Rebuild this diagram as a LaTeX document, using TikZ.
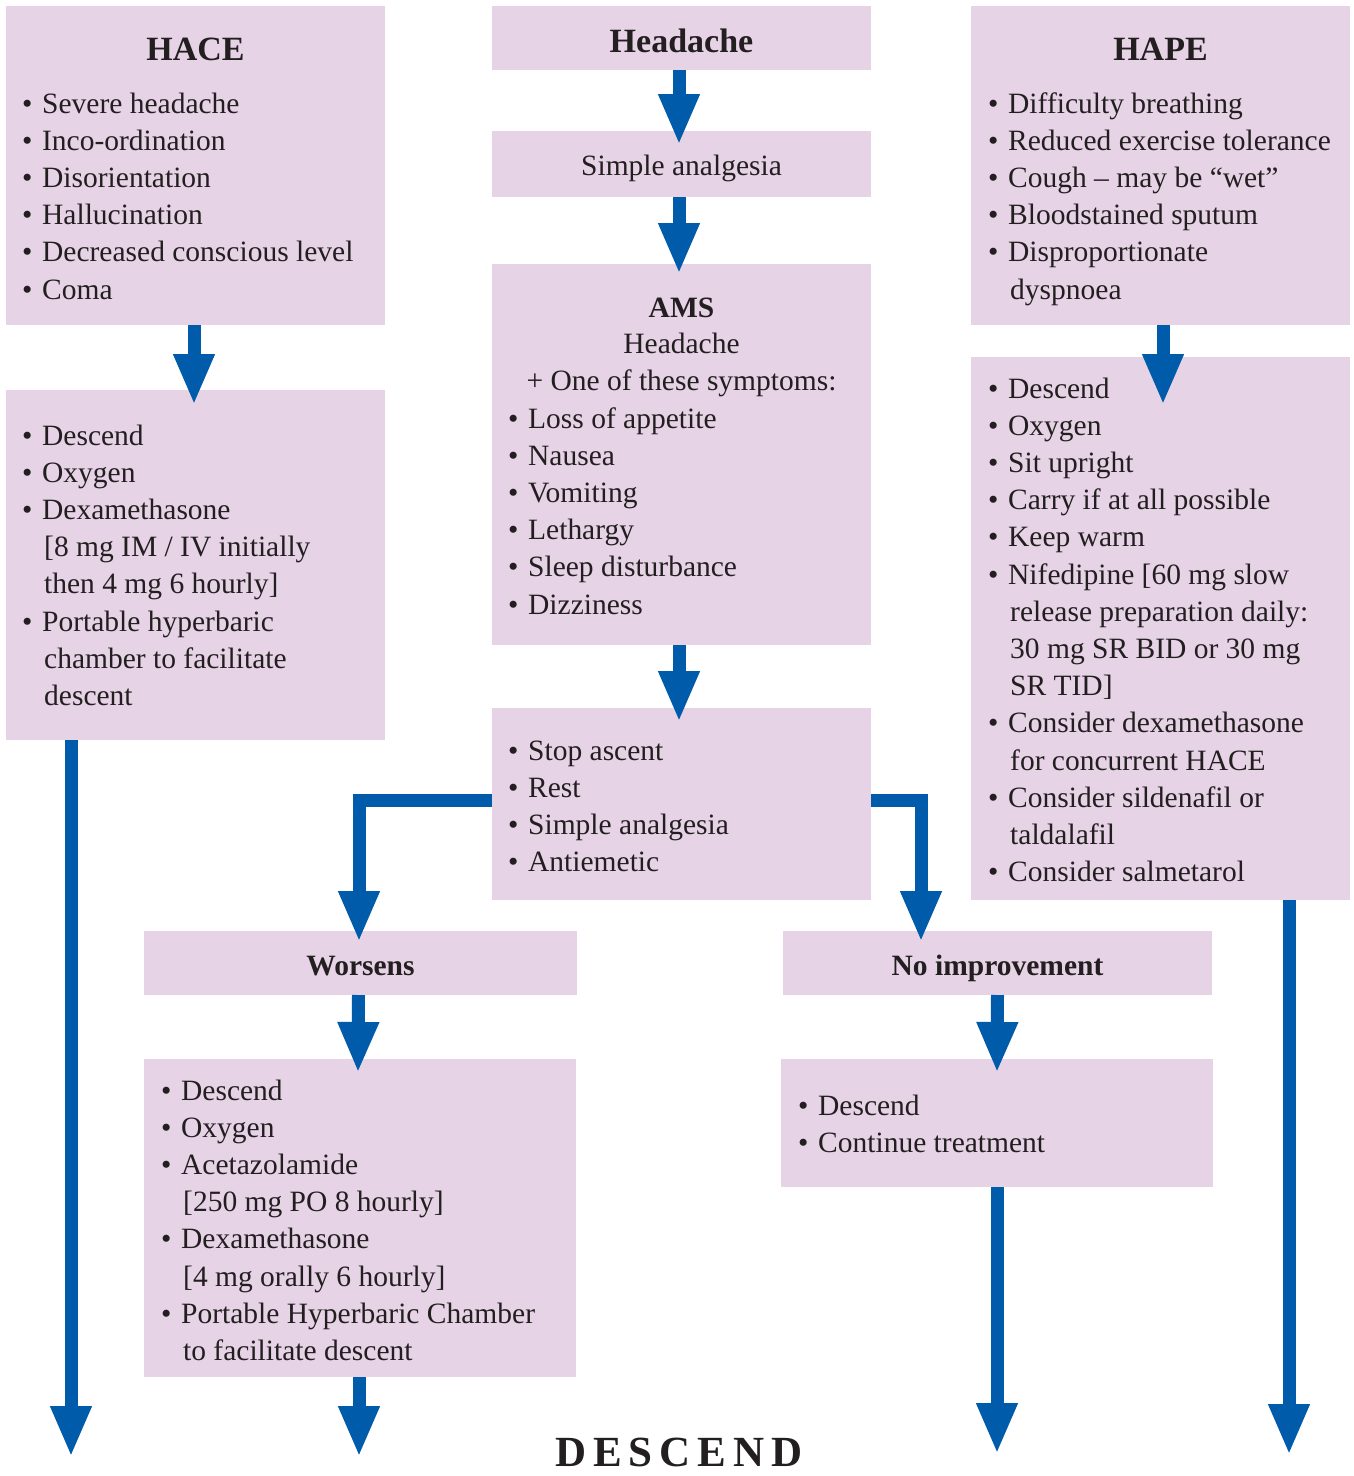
\documentclass[tikz,border=0pt]{standalone}
\usepackage{fontspec}
\setmainfont{Liberation Serif}
\usetikzlibrary{arrows.meta,calc}
\definecolor{boxfill}{HTML}{E6D3E6}
\definecolor{arrblue}{HTML}{005BAA}
\definecolor{ink}{HTML}{231F20}
\newcommand\bodyf{\fontsize{29.5}{37}\selectfont}
\newcommand\ttlf{\fontsize{34}{40}\selectfont\bfseries}
\newcommand\subf{\fontsize{29.5}{37}\selectfont\bfseries}
\newcommand\B{\makebox[20pt][l]{•}}
\newcommand\C{\hspace*{22pt}}
\newcommand\blist[4]{%
  \foreach \t [count=\i] in {#4} {\node[txt] (#1-\i) at (#2,{#3+(\i-1)*37.2}) {\t};}}
\begin{document}
\begin{tikzpicture}[x=1pt,y=-1pt,
  box/.style={fill=boxfill,draw=none,inner sep=0pt,outer sep=0pt,anchor=north west},
  txt/.style={anchor=base west,inner sep=0pt,text=ink,font=\bodyf},
  ctxt/.style={anchor=base,inner sep=0pt,text=ink,font=\bodyf},
  ttl/.style={anchor=base,inner sep=0pt,text=ink,font=\ttlf},
  sub/.style={anchor=base,inner sep=0pt,text=ink,font=\subf},
  arr/.style={draw=arrblue,line width=13pt,-{Triangle[width=38pt,length=51pt]}}]
\useasboundingbox (0,0) rectangle (1354,1476);
% boxes
\node[box,minimum width=379pt,minimum height=319pt] (hace) at (6,6) {};
\node[box,minimum width=379pt,minimum height=64pt] (headache) at (492,6) {};
\node[box,minimum width=379pt,minimum height=319pt] (hape) at (971,6) {};
\node[box,minimum width=379pt,minimum height=66pt] (simple) at (492,131) {};
\node[box,minimum width=379pt,minimum height=381pt] (ams) at (492,264) {};
\node[box,minimum width=379pt,minimum height=350pt] (hacetr) at (6,390) {};
\node[box,minimum width=379pt,minimum height=543pt] (hapetr) at (971,357) {};
\node[box,minimum width=379pt,minimum height=192pt] (stop) at (492,708) {};
\node[box,minimum width=433pt,minimum height=64pt] (worsens) at (144,931) {};
\node[box,minimum width=429pt,minimum height=64pt] (noimp) at (783,931) {};
\node[box,minimum width=432pt,minimum height=318pt] (worsenstr) at (144,1059) {};
\node[box,minimum width=432pt,minimum height=128pt] (noimptr) at (781,1059) {};
% titles
\node[ttl] (hacettl) at (195.5,60) {HACE};
\node[ttl] (hapettl) at (1160.5,60) {HAPE};
\node[ttl] (headttl) at (681.5,52) {Headache};
\node[ctxt] (simplettl) at (681.5,175) {Simple analgesia};
\node[sub] (amsttl) at (681.5,317) {AMS};
\node[ctxt] (amsh) at (681.5,353) {Headache};
\node[ctxt] (amsplus) at (681.5,390) {+ One of these symptoms:};
\node[sub] (worsttl) at (360.5,975) {Worsens};
\node[sub] (noimpttl) at (997.5,975) {No improvement};
% lists
\blist{hl}{22}{113}{\B Severe headache,\B Inco-ordination,\B Disorientation,\B Hallucination,\B Decreased conscious level,\B Coma}
\blist{htl}{22}{445}{\B Descend,\B Oxygen,\B Dexamethasone,\C [8 mg IM / IV initially,\C then 4 mg 6 hourly],\B Portable hyperbaric,\C chamber to facilitate,\C descent}
\blist{pl}{988}{113}{\B Difficulty breathing,\B Reduced exercise tolerance,\B Cough – may be “wet”,\B Bloodstained sputum,\B Disproportionate,\C dyspnoea}
\blist{ptl}{988}{398}{\B Descend,\B Oxygen,\B Sit upright,\B Carry if at all possible,\B Keep warm,\B Nifedipine [60 mg slow,\C release preparation daily:,\C 30 mg SR BID or 30 mg,\C SR TID],\B Consider dexamethasone,\C for concurrent HACE,\B Consider sildenafil or,\C taldalafil,\B Consider salmetarol}
\blist{al}{508}{428}{\B Loss of appetite,\B Nausea,\B Vomiting,\B Lethargy,\B Sleep disturbance,\B Dizziness}
\blist{sl}{508}{760}{\B Stop ascent,\B Rest,\B Simple analgesia,\B Antiemetic}
\blist{wl}{161}{1100}{\B Descend,\B Oxygen,\B Acetazolamide,\C [250 mg PO 8 hourly],\B Dexamethasone,\C [4 mg orally 6 hourly],\B Portable Hyperbaric Chamber,\C to facilitate descent}
\blist{nl}{798}{1115}{\B Descend,\B Continue treatment}
\node[anchor=base,inner sep=0pt,text=ink,font=\fontsize{43}{48}\selectfont\bfseries] (descend) at (679,1466) {D\kern7pt E\kern7pt S\kern7pt C\kern7pt E\kern7pt N\kern7pt D};
% arrows
\draw[arr] ($(headache.south)+(-2.5,0)$) -- ($(simple.north)+(-2.5,14)$);
\draw[arr] ($(simple.south)+(-2.5,0)$) -- ($(ams.north)+(-2.5,10)$);
\draw[arr] ($(ams.south)+(-2.5,0)$) -- ($(stop.north)+(-2.5,14)$);
\draw[arr] ($(hace.south)+(-1.5,0)$) -- ($(hacetr.north)+(-1.5,15)$);
\draw[arr] ($(hape.south)+(2.5,0)$) -- ($(hapetr.north)+(2.5,48)$);
\draw[arr] ($(stop.west)+(0,-4)$) -| ($(worsens.north)+(-1.5,11)$);
\draw[arr] ($(stop.east)+(0,-4)$) -| ($(noimp.north)+(-76.5,11)$);
\draw[arr] ($(worsens.south)+(-2,0)$) -- ($(worsenstr.north)+(-2,14)$);
\draw[arr] (noimp.south) -- ($(noimptr.north)+(0,14)$);
\coordinate (e1) at (71,1457);
\coordinate (e2) at (359,1457);
\coordinate (e3) at (997,1454);
\coordinate (e4) at (1289,1455);
\draw[arr] (hacetr.south -| e1) -- (e1);
\draw[arr] (worsenstr.south -| e2) -- (e2);
\draw[arr] (noimptr.south -| e3) -- (e3);
\draw[arr] (hapetr.south -| e4) -- (e4);
\end{tikzpicture}
\end{document}
